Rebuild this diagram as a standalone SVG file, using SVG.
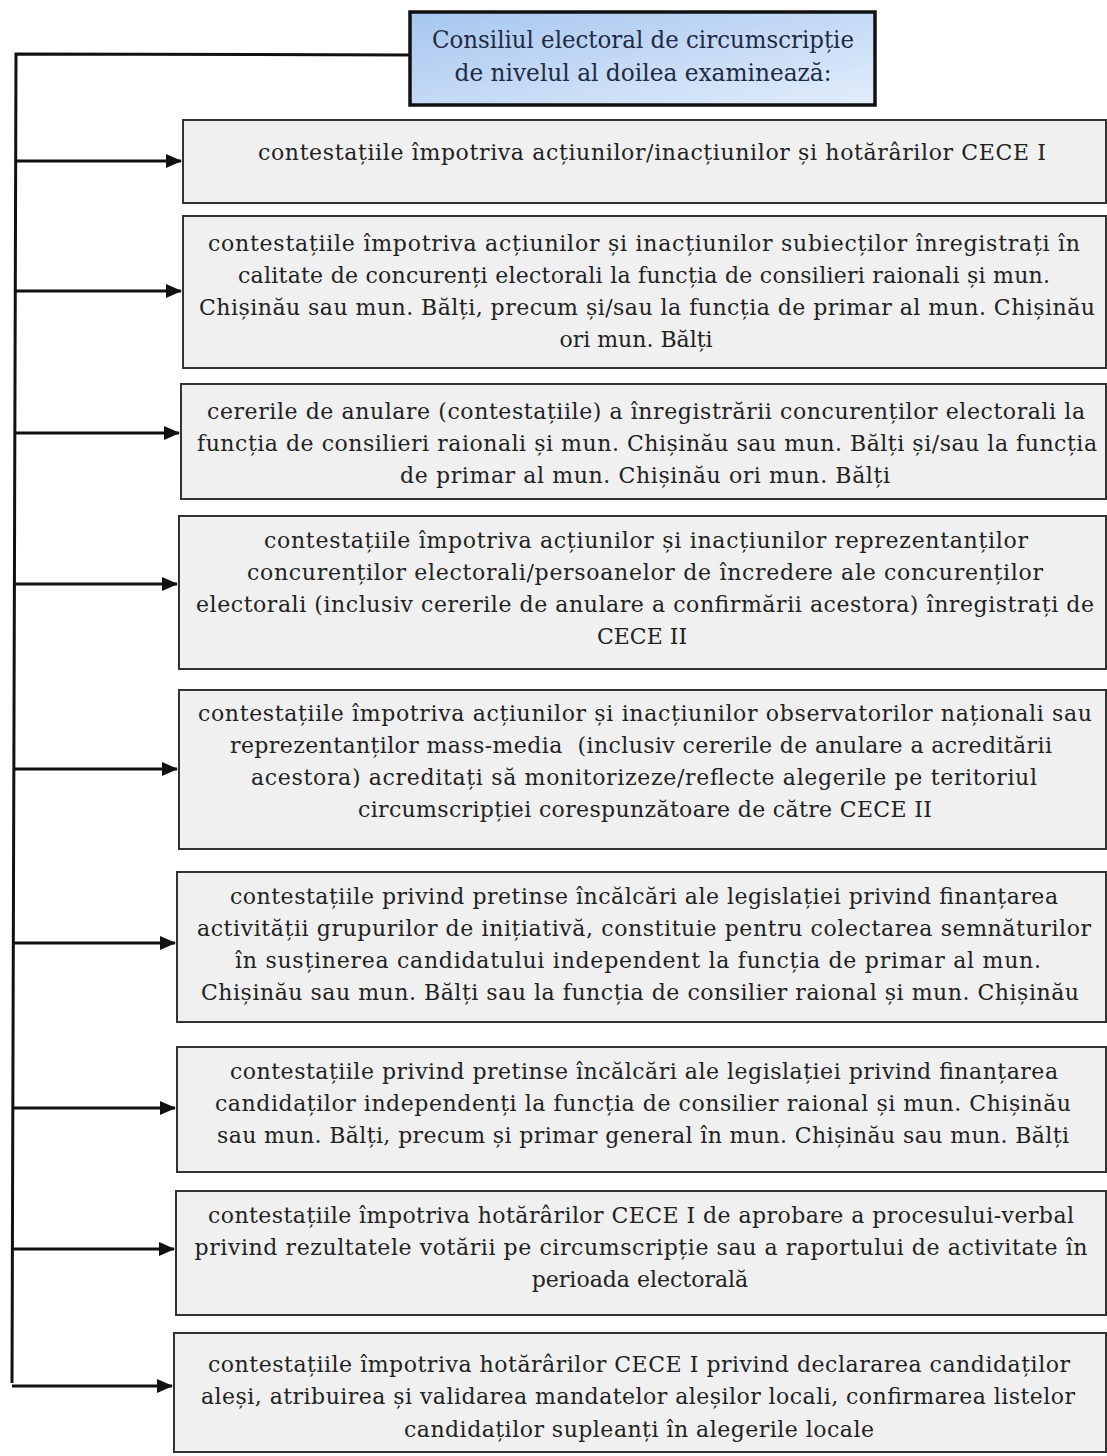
<svg xmlns="http://www.w3.org/2000/svg" width="1107" height="1456" viewBox="0 0 1107 1456">
<defs>
<linearGradient id="hdr" x1="0" y1="0" x2="1" y2="1">
<stop offset="0" stop-color="#a6c6f0"/>
<stop offset="1" stop-color="#e2edfa"/>
</linearGradient>
<marker id="ah" markerWidth="16" markerHeight="14" refX="15" refY="7" orient="auto" markerUnits="userSpaceOnUse">
<path d="M0,0 L16,7 L0,14 Z" fill="#111"/>
</marker>
<style>
.box{fill:#f0f0f0;stroke:#333;stroke-width:2}
.t{font-family:"DejaVu Serif","Liberation Serif",serif;font-size:22px;fill:#222;text-anchor:middle}
.h{font-family:"DejaVu Serif","Liberation Serif",serif;font-size:25px;fill:#1f2a44;text-anchor:middle}
.c{fill:none;stroke:#111;stroke-width:3}
</style>
</defs>
<rect width="1107" height="1456" fill="#fff"/>
<g id="connectors">
<path class="c" d="M410,55 L16,54 L12,1383"/>
<line class="c" x1="16" y1="161" x2="181" y2="161" marker-end="url(#ah)"/>
<line class="c" x1="16" y1="291" x2="181" y2="291" marker-end="url(#ah)"/>
<line class="c" x1="15" y1="433" x2="179" y2="433" marker-end="url(#ah)"/>
<line class="c" x1="15" y1="584" x2="177" y2="584" marker-end="url(#ah)"/>
<line class="c" x1="14" y1="769" x2="177" y2="769" marker-end="url(#ah)"/>
<line class="c" x1="14" y1="943" x2="175" y2="943" marker-end="url(#ah)"/>
<line class="c" x1="13" y1="1108" x2="175" y2="1108" marker-end="url(#ah)"/>
<line class="c" x1="13" y1="1249" x2="174" y2="1249" marker-end="url(#ah)"/>
<line class="c" x1="12" y1="1386" x2="172" y2="1386" marker-end="url(#ah)"/>
</g>
<g id="root">
<rect x="410" y="12" width="465" height="93" fill="url(#hdr)" stroke="#111" stroke-width="3.5"/>
<text class="h" x="643" y="48" textLength="422" lengthAdjust="spacingAndGlyphs">Consiliul electoral de circumscripție</text>
<text class="h" x="643" y="81" textLength="377" lengthAdjust="spacingAndGlyphs">de nivelul al doilea examinează:</text>
</g>
<g id="n1">
<rect class="box" x="183" y="120" width="923" height="83"/>
<text class="t" x="652" y="160" textLength="788">contestațiile împotriva acțiunilor/inacțiunilor și hotărârilor CECE I</text>
</g>
<g id="n2">
<rect class="box" x="183" y="216" width="923" height="152"/>
<text class="t" x="644" y="251" textLength="872">contestațiile împotriva acțiunilor și inacțiunilor subiecților înregistrați în</text>
<text class="t" x="644" y="283" textLength="812">calitate de concurenți electorali la funcția de consilieri raionali și mun.</text>
<text class="t" x="647" y="315" textLength="896">Chișinău sau mun. Bălți, precum și/sau la funcția de primar al mun. Chișinău</text>
<text class="t" x="636" y="347">ori mun. Bălți</text>
</g>
<g id="n3">
<rect class="box" x="181" y="384" width="925" height="115"/>
<text class="t" x="646" y="419" textLength="878">cererile de anulare (contestațiile) a înregistrării concurenților electorali la</text>
<text class="t" x="647" y="451" textLength="900">funcția de consilieri raionali și mun. Chișinău sau mun. Bălți și/sau la funcția</text>
<text class="t" x="645" y="483" textLength="490">de primar al mun. Chișinău ori mun. Bălți</text>
</g>
<g id="n4">
<rect class="box" x="179" y="516" width="927" height="153"/>
<text class="t" x="646" y="548" textLength="764">contestațiile împotriva acțiunilor și inacțiunilor reprezentanților</text>
<text class="t" x="645" y="580" textLength="796">concurenților electorali/persoanelor de încredere ale concurenților</text>
<text class="t" x="645" y="612" textLength="898">electorali (inclusiv cererile de anulare a confirmării acestora) înregistrați de</text>
<text class="t" x="642" y="644">CECE II</text>
</g>
<g id="n5">
<rect class="box" x="179" y="690" width="927" height="159"/>
<text class="t" x="645" y="721" textLength="894">contestațiile împotriva acțiunilor și inacțiunilor observatorilor naționali sau</text>
<text class="t" x="641" y="753" textLength="822" xml:space="preserve">reprezentanților mass-media  (inclusiv cererile de anulare a acreditării</text>
<text class="t" x="644" y="785" textLength="786">acestora) acreditați să monitorizeze/reflecte alegerile pe teritoriul</text>
<text class="t" x="645" y="817" textLength="574">circumscripției corespunzătoare de către CECE II</text>
</g>
<g id="n6">
<rect class="box" x="177" y="872" width="929" height="150"/>
<text class="t" x="644" y="904" textLength="828">contestațiile privind pretinse încălcări ale legislației privind finanțarea</text>
<text class="t" x="644" y="936" textLength="894">activității grupurilor de inițiativă, constituie pentru colectarea semnăturilor</text>
<text class="t" x="638" y="968" textLength="806">în susținerea candidatului independent la funcția de primar al mun.</text>
<text class="t" x="640" y="1000" textLength="878">Chișinău sau mun. Bălți sau la funcția de consilier raional și mun. Chișinău</text>
</g>
<g id="n7">
<rect class="box" x="177" y="1047" width="929" height="125"/>
<text class="t" x="644" y="1079" textLength="828">contestațiile privind pretinse încălcări ale legislației privind finanțarea</text>
<text class="t" x="643" y="1111" textLength="856">candidaților independenți la funcția de consilier raional și mun. Chișinău</text>
<text class="t" x="643" y="1143" textLength="852">sau mun. Bălți, precum și primar general în mun. Chișinău sau mun. Bălți</text>
</g>
<g id="n8">
<rect class="box" x="176" y="1191" width="930" height="124"/>
<text class="t" x="641" y="1223" textLength="866">contestațiile împotriva hotărârilor CECE I de aprobare a procesului-verbal</text>
<text class="t" x="641" y="1255" textLength="893">privind rezultatele votării pe circumscripție sau a raportului de activitate în</text>
<text class="t" x="640" y="1287">perioada electorală</text>
</g>
<g id="n9">
<rect class="box" x="174" y="1333" width="932" height="119"/>
<text class="t" x="639" y="1372" textLength="862">contestațiile împotriva hotărârilor CECE I privind declararea candidaților</text>
<text class="t" x="638" y="1404" textLength="874">aleși, atribuirea și validarea mandatelor aleșilor locali, confirmarea listelor</text>
<text class="t" x="639" y="1437" textLength="470">candidaților supleanți în alegerile locale</text>
</g>
</svg>
